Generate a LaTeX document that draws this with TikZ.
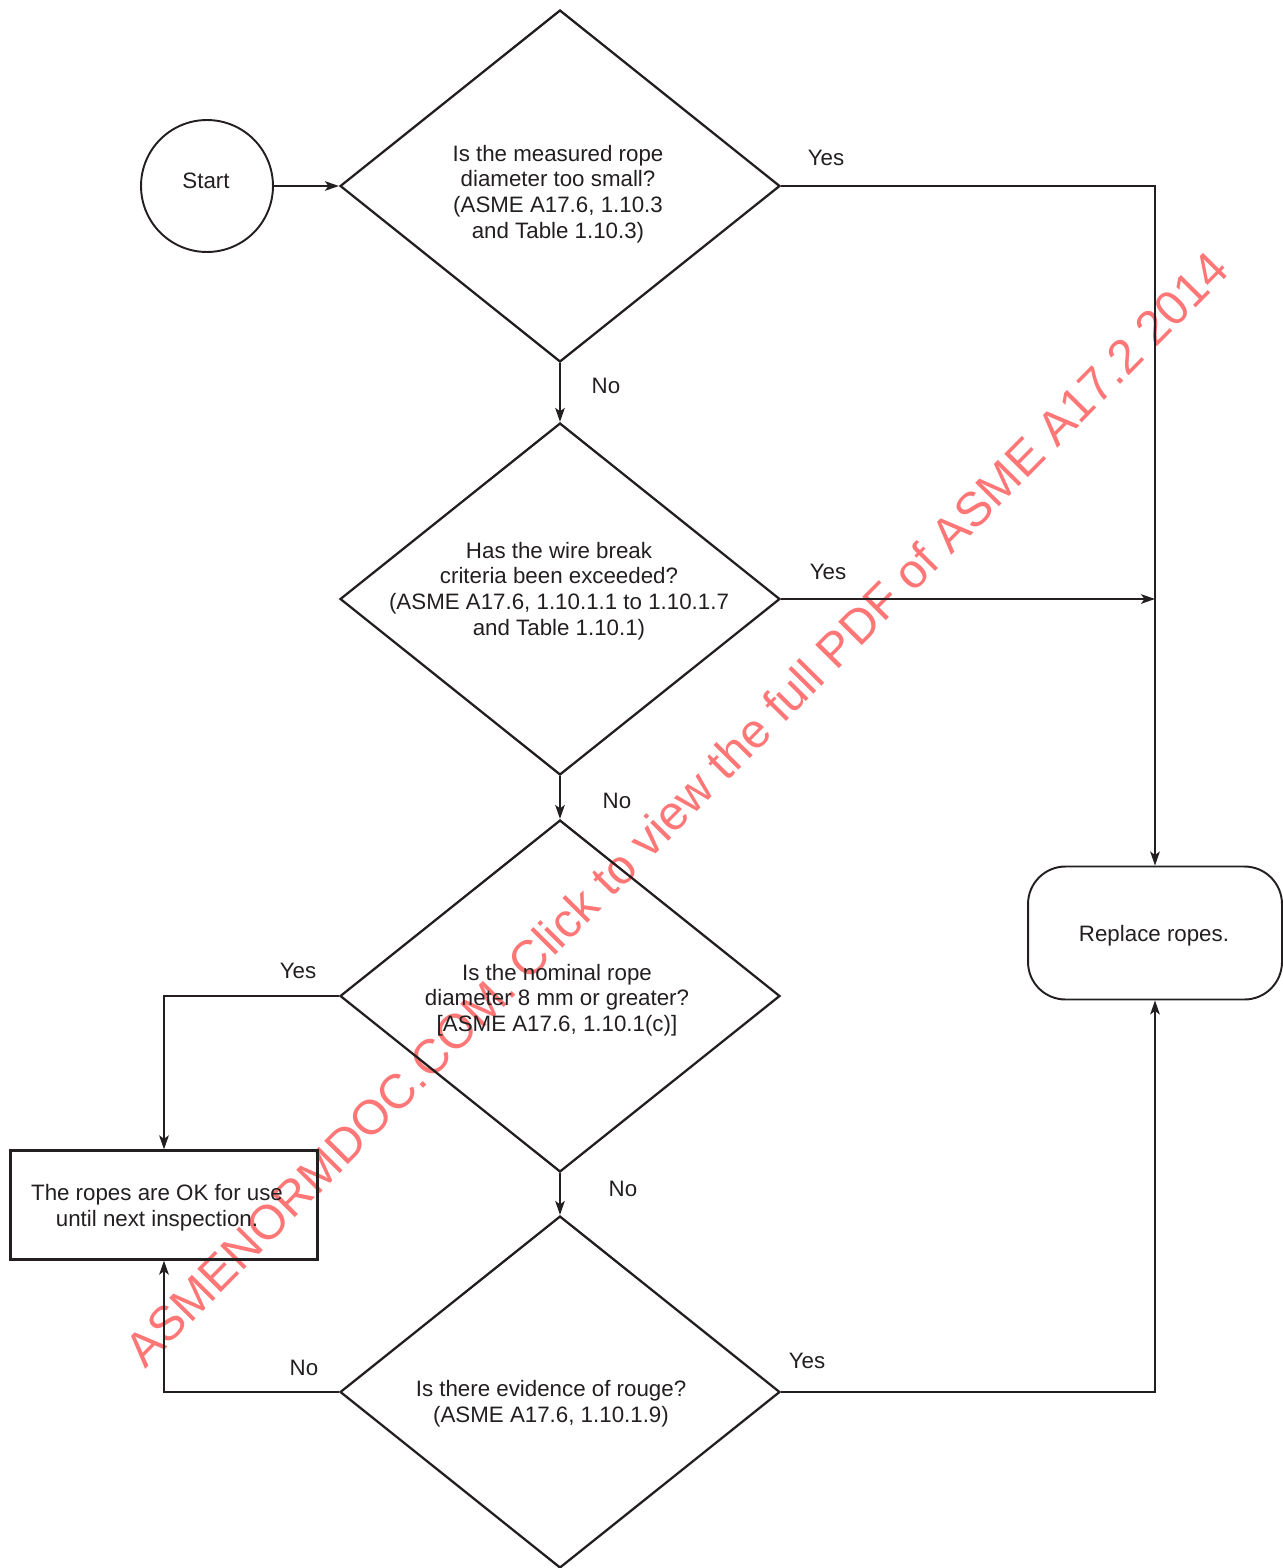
\documentclass[tikz,border=0pt]{standalone}
\usepackage{fontspec}
\setmainfont{Liberation Sans}
\usetikzlibrary{shapes.geometric,arrows.meta}
\definecolor{ink}{RGB}{35,31,32}
\definecolor{wmred}{RGB}{255,118,118}

\begin{document}
\begin{tikzpicture}[x=0.02cm,y=-0.02cm,color=ink,
	>={Stealth[length=8pt,width=5.5pt,inset=2pt]},
	decision/.style={diamond,draw,line width=1.3pt,minimum width=8.8cm,minimum height=7.04cm,inner sep=0pt},
	qtext/.style={align=center,inner sep=0pt,font=\fontsize{12.7}{14.6}\selectfont},
	startnode/.style={circle,draw,line width=1.1pt,minimum size=2.64cm,inner sep=0pt},
	okbox/.style={rectangle,draw,line width=1.3pt,minimum width=6.14cm,minimum height=2.18cm,inner sep=0pt},
	replbox/.style={rectangle,draw,rounded corners=0.75cm,line width=1.1pt,minimum width=5.08cm,minimum height=2.66cm,inner sep=0pt},
	flow/.style={->,line width=0.8pt},
	watermark/.style={text=wmred,rotate=45.3,inner sep=0pt,font=\fontsize{27.5}{30}\selectfont}]
\useasboundingbox (0,0) rectangle (1283,1568);
% stamp
\node[watermark] (wm) at (676,809) {ASMENORMDOC.COM. Click to view the full PDF of ASME A17.2 2014};
% shapes
\node[startnode] (start) at (207,186) {};
\node[decision] (q1) at (560,186) {};
\node[decision] (q2) at (560,599) {};
\node[decision] (q3) at (560,996) {};
\node[decision] (q4) at (560,1392) {};
\node[okbox] (ok) at (164,1205) {};
\node[replbox] (repl) at (1155,933) {};
% texts
\node[qtext] (starttxt) at (206,181) {Start};
\node[qtext] (q1txt) at (558,194) {Is the measured rope\\diameter too small?\\(ASME A17.6, 1.10.3\\and Table 1.10.3)};
\node[qtext] (q2txt) at (559,591) {Has the wire break\\criteria been exceeded?\\(ASME A17.6, 1.10.1.1 to 1.10.1.7\\and Table 1.10.1)};
\node[qtext] (q3txt) at (557,1000) {Is the nominal rope\\diameter 8 mm or greater?\\{}[ASME A17.6, 1.10.1(c)]};
\node[qtext] (q4txt) at (551,1404) {Is there evidence of rouge?\\(ASME A17.6, 1.10.1.9)};
\node[qtext] (oktxt) at (157,1208) {The ropes are OK for use\\until next inspection.};
\node[qtext] (repltxt) at (1154,936) {Replace ropes.};
% connectors
\coordinate (j1) at (repl.north |- q1.east);
\coordinate (j2) at (repl.north |- q2.east);
\draw[flow] (start) -- (q1.west);
\draw[flow] (q1.east) -- (j1) -- (repl.north);
\draw[flow] (q2.east) -- (j2);
\draw[flow] (q1.south) -- (q2.north);
\draw[flow] (q2.south) -- (q3.north);
\draw[flow] (q3.south) -- (q4.north);
\draw[flow] (q3.west) -| (ok.north);
\draw[flow] (q4.west) -| (ok.south);
\draw[flow] (q4.east) -| (repl.south);
% answers
\node[qtext] (yes1) at (826,158) {Yes};
\node[qtext] (no1) at (606,386) {No};
\node[qtext] (yes2) at (828,572) {Yes};
\node[qtext] (no2) at (617,801) {No};
\node[qtext] (yes3) at (298,971) {Yes};
\node[qtext] (no3) at (623,1189) {No};
\node[qtext] (no4) at (304,1368) {No};
\node[qtext] (yes4) at (807,1361) {Yes};
\end{tikzpicture}
\end{document}
